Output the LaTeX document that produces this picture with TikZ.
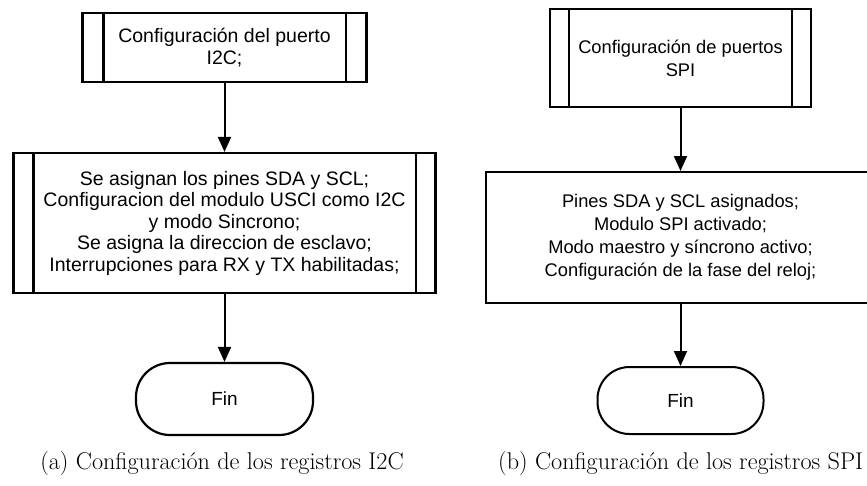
\documentclass[tikz,border=0pt]{standalone}
\usepackage{fontspec}
\newfontfamily\arialf{Liberation Sans}
\usetikzlibrary{arrows.meta}
\tikzset{
  procbox/.style={draw, line width=2.2pt, rectangle, inner sep=0pt, align=center, font=\arialf\fontsize{19.5}{21.5}\selectfont},
  procboxr/.style={procbox, line width=2pt, font=\arialf\fontsize{18.3}{23}\selectfont},
  endbox/.style={draw, line width=2.2pt, rectangle, rounded corners=34pt, inner sep=0pt, font=\arialf\fontsize{19}{21}\selectfont},
  flow/.style={line width=2pt, -{Triangle[length=15pt,width=13pt]}},
  subline/.style={line width=2.2pt},
  captxt/.style={inner sep=0pt, font=\fontsize{24.2}{27}\selectfont}
}
\begin{document}
\begin{tikzpicture}[x=1pt,y=-1pt]
\useasboundingbox (0,0) rectangle (867,485);
\clip (0,0) rectangle (867,485);
% left flowchart
\node[procbox, minimum width=284pt, minimum height=69pt] (b1) at (224.5,47.5) {Configuración del puerto\\I2C;};
\draw[subline] ([xshift=22pt]b1.north west) -- ([xshift=22pt]b1.south west);
\draw[subline] ([xshift=-22pt]b1.north east) -- ([xshift=-22pt]b1.south east);
\node[procbox, minimum width=422pt, minimum height=140pt] (b2) at (224.5,223) {Se asignan los pines SDA y SCL;\\Configuracion del modulo USCI como I2C\\y modo Sincrono;\\Se asigna la direccion de esclavo;\\Interrupciones para RX y TX habilitadas;};
\draw[subline] ([xshift=21pt]b2.north west) -- ([xshift=21pt]b2.south west);
\draw[subline] ([xshift=-21pt]b2.north east) -- ([xshift=-21pt]b2.south east);
\node[endbox, minimum width=177pt, minimum height=72pt] (f1) at (224.5,399) {Fin};
\draw[flow] (b1) -- (b2);
\draw[flow] (b2) -- (f1);
\node[captxt] (c1) at (222,463) {(a) Configuración de los registros I2C};
% right flowchart
\node[procboxr, minimum width=261pt, minimum height=98pt] (b3) at (680.5,58) {Configuración de puertos\\SPI};
\draw[subline, line width=2pt] ([xshift=20pt]b3.north west) -- ([xshift=20pt]b3.south west);
\draw[subline, line width=2pt] ([xshift=-20pt]b3.north east) -- ([xshift=-20pt]b3.south east);
\node[procboxr, minimum width=390pt, minimum height=131pt] (b4) at (680.5,237.5) {Pines SDA y SCL asignados;\\Modulo SPI activado;\\Modo maestro y síncrono activo;\\Configuración de la fase del reloj;};
\node[endbox, line width=2pt, minimum width=166pt, minimum height=67pt, rounded corners=32pt] (f2) at (680.5,400.5) {Fin};
\draw[flow] (b3) -- (b4);
\draw[flow] (b4) -- (f2);
\node[captxt, anchor=west] (c2) at (498,463) {(b) Configuración de los registros SPI};
\end{tikzpicture}
\end{document}
